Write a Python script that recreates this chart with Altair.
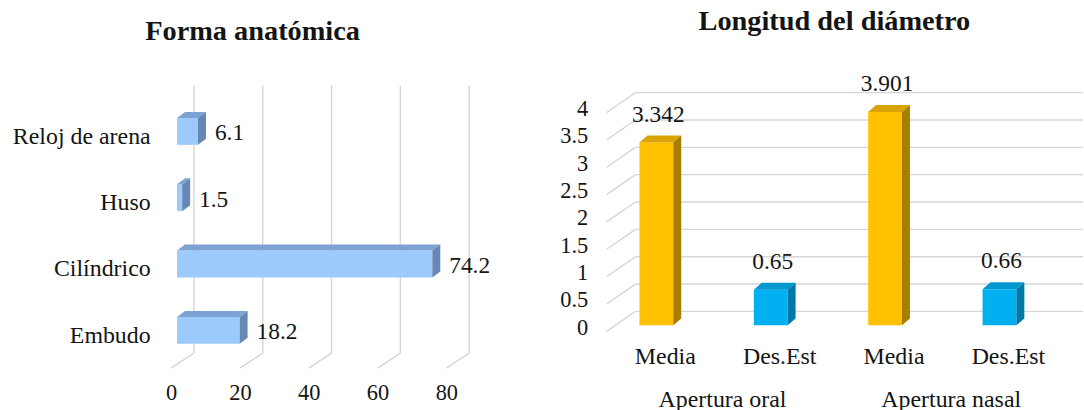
import json
import altair as alt
import pandas as pd

# ---------------- data ----------------
forma_cats = ["Embudo", "Cilíndrico", "Huso", "Reloj de arena"]
forma_vals = [18.2, 74.2, 1.5, 6.1]
forma_ticks = [0, 20, 40, 60, 80]

diam_groups = ["Apertura oral", "Apertura nasal"]
diam_group_of = [0, 0, 1, 1]
diam_stats = ["Media", "Des.Est", "Media", "Des.Est"]
diam_vals = [3.342, 0.65, 3.901, 0.66]
diam_labels = ["3.342", "0.65", "3.901", "0.66"]
diam_ticks = [0, 0.5, 1, 1.5, 2, 2.5, 3, 3.5, 4]

FONT = "'Liberation Serif', 'Times New Roman', 'DejaVu Serif', serif"
TXT = "#141414"
GRID = "#D6D6D6"

# ---------------- left panel geometry (3-D projection) ----------------
L_W, L_H = 332, 290
L_PX = 3.46          # px per unit on x
L_SLOT = 66.67       # px per category slot
L_XDOM = [-10 / L_PX, (L_W - 10) / L_PX]
L_YDOM = [-41 / L_SLOT, 3 + 49 / L_SLOT]
hb = 0.2025                     # half bar thickness (slots)
ddx = 8 / L_PX                  # bar depth, x
ddy = 6 / L_SLOT                # bar depth, y
back_dx = 17 / L_PX
front_dx = -6 / L_PX
floor_front = -38 / L_SLOT
floor_back = -23 / L_SLOT
wall_top = 3 + 46 / L_SLOT

idx = list(range(len(forma_cats)))
bars = pd.DataFrame({"cat": forma_cats, "i": idx, "v": forma_vals})
bars["x0"] = 0.0
bars["y0"] = bars["i"] - hb
bars["y1"] = bars["i"] + hb
bars["xt"] = bars["v"] + ddx
bars["lab"] = [f"{v:g}" for v in forma_vals]

top_rows, side_rows = [], []
for c, i, v in zip(forma_cats, idx, forma_vals):
    top_rows.append({"cat": c, "y": i + hb, "xa": 0.0, "xb": v})
    top_rows.append({"cat": c, "y": i + hb + ddy, "xa": ddx, "xb": v + ddx})
    side_rows.append({"cat": c, "x": v, "ya": i - hb, "yb": i + hb})
    side_rows.append({"cat": c, "x": v + ddx, "ya": i - hb + ddy, "yb": i + hb + ddy})
tops = pd.DataFrame(top_rows)
sides = pd.DataFrame(side_rows)

lgrid = pd.DataFrame({"g": forma_ticks})
lgrid["xb"] = lgrid["g"] + back_dx
lgrid["xf"] = lgrid["g"] + front_dx
lgrid["yf"] = floor_front
lgrid["yb"] = floor_back
lgrid["yt"] = wall_top

lx = alt.Scale(domain=L_XDOM, nice=False, zero=False)
ly = alt.Scale(domain=L_YDOM, nice=False, zero=False)
lx_axis = alt.Axis(values=forma_ticks, title=None, domain=False, ticks=False, grid=False,
                   labelFont=FONT, labelFontSize=22.5, labelColor=TXT, labelPadding=11,
                   labelOffset=-6, labelFlush=False, labelOverlap=False)
ly_axis = alt.Axis(values=idx, title=None, domain=False, ticks=False, grid=False,
                   labelExpr=f"{json.dumps(forma_cats)}[datum.value]",
                   labelFont=FONT, labelFontSize=24, labelColor=TXT, labelPadding=17,
                   labelOffset=5, labelFlush=False, labelOverlap=False,
                   minExtent=163, maxExtent=163)

L_FRONT, L_TOP, L_SIDE = "#9CCBFB", "#7DA3D3", "#6787B4"

l_back = alt.Chart(lgrid).mark_rule(color=GRID, strokeWidth=1.4).encode(
    x=alt.X("xb:Q", scale=lx, axis=lx_axis), y=alt.Y("yb:Q", scale=ly, axis=ly_axis), y2="yt:Q")
l_floor = alt.Chart(lgrid).mark_rule(color=GRID, strokeWidth=1.4).encode(
    x=alt.X("xf:Q", scale=lx, axis=lx_axis), x2="xb:Q",
    y=alt.Y("yf:Q", scale=ly, axis=ly_axis), y2="yb:Q")
l_front = alt.Chart(bars).mark_rect(color=L_FRONT).encode(
    x=alt.X("x0:Q", scale=lx, axis=lx_axis), x2="v:Q",
    y=alt.Y("y0:Q", scale=ly, axis=ly_axis), y2="y1:Q")
l_top = alt.Chart(tops).mark_area(orient="horizontal", color=L_TOP, opacity=1).encode(
    y=alt.Y("y:Q", scale=ly, axis=ly_axis),
    x=alt.X("xa:Q", scale=lx, axis=lx_axis, stack=None), x2="xb:Q", detail="cat:N")
l_side = alt.Chart(sides).mark_area(orient="vertical", color=L_SIDE, opacity=1).encode(
    x=alt.X("x:Q", scale=lx, axis=lx_axis),
    y=alt.Y("ya:Q", scale=ly, axis=ly_axis, stack=None), y2="yb:Q", detail="cat:N")
l_text = alt.Chart(bars).mark_text(align="left", baseline="middle", dx=9, dy=2,
                                   font=FONT, fontSize=23.5, color=TXT).encode(
    x=alt.X("xt:Q", scale=lx, axis=lx_axis), y=alt.Y("i:Q", scale=ly, axis=ly_axis), text="lab:N")

left = alt.layer(l_back, l_floor, l_front, l_top, l_side, l_text).properties(
    width=L_W, height=L_H,
    title=alt.TitleParams("Forma anatómica", font=FONT, fontSize=28.5, fontWeight="bold",
                          color=TXT, anchor="middle", dx=-80, offset=37))

# ---------------- right panel geometry ----------------
R_W, R_H = 484, 254
R_SLOT = 115.0
R_PX = 55.0
R_XDOM = [-55 / R_SLOT, 429 / R_SLOT]
R_YDOM = [-10 / R_PX, 244 / R_PX]
bw = 17 / R_SLOT
rdx = 8 / R_SLOT
rdy = 7 / R_PX
r_back_dy = 14 / R_PX
r_front_dy = -6 / R_PX
r_back_x = -21 / R_SLOT
r_front_x = -50 / R_SLOT

ridx = list(range(len(diam_vals)))
rb = pd.DataFrame({"stat": diam_stats, "j": ridx, "v": diam_vals, "lab": diam_labels})
rb["xl"] = rb["j"] - bw
rb["xr"] = rb["j"] + bw
rb["y0"] = 0.0
rb["yt"] = rb["v"] + rdy

rtop_rows, rside_rows = [], []
for s, j, v in zip(diam_stats, ridx, diam_vals):
    rtop_rows.append({"k": j, "s": s, "y": v, "xa": j - bw, "xb": j + bw})
    rtop_rows.append({"k": j, "s": s, "y": v + rdy, "xa": j - bw + rdx, "xb": j + bw + rdx})
    rside_rows.append({"k": j, "s": s, "x": j + bw, "ya": 0.0, "yb": v})
    rside_rows.append({"k": j, "s": s, "x": j + bw + rdx, "ya": rdy, "yb": v + rdy})
rtops = pd.DataFrame(rtop_rows)
rsides = pd.DataFrame(rside_rows)

rgrid = pd.DataFrame({"g": diam_ticks})
rgrid["yb"] = rgrid["g"] + r_back_dy
rgrid["yf"] = rgrid["g"] + r_front_dy
rgrid["xb"] = r_back_x
rgrid["xf"] = r_front_x
rgrid["xe"] = R_XDOM[1]

grp = pd.DataFrame({"name": diam_groups})
grp["x"] = [sum(j for j, g in zip(ridx, diam_group_of) if g == k) /
            diam_group_of.count(k) for k in range(len(diam_groups))]

rx = alt.Scale(domain=R_XDOM, nice=False, zero=False)
ry = alt.Scale(domain=R_YDOM, nice=False, zero=False)
rx_axis = alt.Axis(values=ridx, title=None, domain=False, ticks=False, grid=False,
                   labelExpr=f"{json.dumps(diam_stats)}[datum.value]",
                   labelFont=FONT, labelFontSize=24, labelColor=TXT, labelPadding=9,
                   labelOffset=8.5, labelFlush=False, labelOverlap=False)
ry_axis = alt.Axis(values=diam_ticks, title=None, domain=False, ticks=False, grid=False,
                   format="~g", labelFont=FONT, labelFontSize=22.5, labelColor=TXT,
                   labelPadding=14, labelOffset=2, labelFlush=False, labelOverlap=False,
                   minExtent=30, maxExtent=30)

front_col = alt.Color("stat:N", scale=alt.Scale(domain=["Media", "Des.Est"],
                                                range=["#FFC000", "#00B0F0"]), legend=None)
top_col = alt.Color("s:N", scale=alt.Scale(domain=["Media", "Des.Est"],
                                           range=["#D9A400", "#0096CE"]), legend=None)
side_col = alt.Color("s:N", scale=alt.Scale(domain=["Media", "Des.Est"],
                                            range=["#A87E00", "#0079A8"]), legend=None)

r_back = alt.Chart(rgrid).mark_rule(color=GRID, strokeWidth=1.4).encode(
    x=alt.X("xb:Q", scale=rx, axis=rx_axis), x2="xe:Q", y=alt.Y("yb:Q", scale=ry, axis=ry_axis))
r_floor = alt.Chart(rgrid).mark_rule(color=GRID, strokeWidth=1.4).encode(
    x=alt.X("xf:Q", scale=rx, axis=rx_axis), x2="xb:Q",
    y=alt.Y("yf:Q", scale=ry, axis=ry_axis), y2="yb:Q")
r_front = alt.Chart(rb).mark_rect().encode(
    x=alt.X("xl:Q", scale=rx, axis=rx_axis), x2="xr:Q",
    y=alt.Y("y0:Q", scale=ry, axis=ry_axis), y2="v:Q", color=front_col)
r_top = alt.Chart(rtops).mark_area(orient="horizontal", opacity=1).encode(
    y=alt.Y("y:Q", scale=ry, axis=ry_axis),
    x=alt.X("xa:Q", scale=rx, axis=rx_axis, stack=None), x2="xb:Q",
    color=top_col, detail="k:N")
r_side = alt.Chart(rsides).mark_area(orient="vertical", opacity=1).encode(
    x=alt.X("x:Q", scale=rx, axis=rx_axis),
    y=alt.Y("ya:Q", scale=ry, axis=ry_axis, stack=None), y2="yb:Q",
    color=side_col, detail="k:N")
r_text = alt.Chart(rb).mark_text(align="center", baseline="middle", dx=2, dy=-21,
                                 font=FONT, fontSize=23.5, color=TXT).encode(
    x=alt.X("j:Q", scale=rx, axis=rx_axis), y=alt.Y("yt:Q", scale=ry, axis=ry_axis), text="lab:N")
r_grp = alt.Chart(grp).mark_text(align="center", baseline="middle", dx=9,
                                 font=FONT, fontSize=24, color=TXT).encode(
    x=alt.X("x:Q", scale=rx, axis=rx_axis), y=alt.value(R_H + 65), text="name:N")

right = alt.layer(r_back, r_floor, r_front, r_top, r_side, r_text, r_grp).resolve_scale(
    color="independent").properties(
    width=R_W, height=R_H,
    title=alt.TitleParams("Longitud del diámetro", font=FONT, fontSize=28.5, fontWeight="bold",
                          color=TXT, anchor="middle", dx=-8, offset=37))

chart = alt.hconcat(left, right, spacing=62).properties(
    padding={"left": 5, "right": 0, "top": 5, "bottom": 0},
    background="white",
).configure_view(stroke=None)

chart.save("out.html", embed_options={"renderer": "svg", "actions": False})
